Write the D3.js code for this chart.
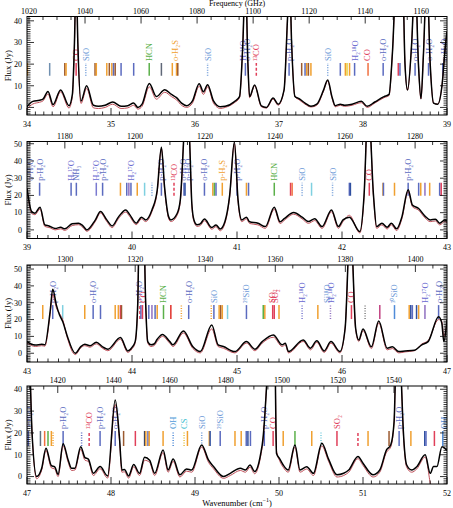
<!DOCTYPE html>
<html><head><meta charset="utf-8">
<script src="https://cdn.jsdelivr.net/npm/d3@7"></script>
<style>body{margin:0;background:#fff}svg{display:block}text{font-family:"Liberation Serif","Times New Roman",serif}</style>
</head><body><svg id="c" width="453" height="508"></svg>
<script>
// ---------------- DATA ----------------
const wnRanges = [[34,39],[39,43],[43,47],[47,52]];
const fluxRanges = [[-3.5,42],[-5,51.3],[-5.2,52.4],[-3.4,41.5]];
const fluxTicks = [[0,10,20,30,40],[0,10,20,30,40,50],[0,10,20,30,40,50],[0,10,20,30,40]];
const markerLevels = [[14.6,20.5],[19.8,27.3],[20.3,28.6],[14,20.9]];

const wn1 = [34.00,34.07,34.15,34.19,34.25,34.31,34.40,34.50,34.54,34.565,34.585,34.605,34.643,34.71,34.79,34.85,34.93,35.02,35.12,35.20,35.27,35.32,35.37,35.456,35.54,35.64,35.72,35.78,35.84,35.90,35.97,36.05,36.10,36.15,36.22,36.26,36.30,36.36,36.47,36.53,36.57,36.60,36.63,36.65,36.71,36.79,36.85,36.93,36.99,37.06,37.10,37.125,37.15,37.19,37.24,37.31,37.38,37.45,37.53,37.58,37.63,37.67,37.73,37.78,37.87,37.98,38.05,38.14,38.25,38.31,38.35,38.40,38.47,38.50,38.53,38.58,38.62,38.66,38.69,38.72,38.76,38.80,38.84,38.89,38.94,38.98,39.00];
const black1 = [0.3,2.8,3.3,3.8,7.4,1.3,8.1,0.8,6,30,62,30,3.0,10,1.0,0.5,1.0,2.5,0.5,0.8,2.0,0.0,1.5,11.0,5.0,8.2,6.0,4.5,2.0,0.8,3.0,10.9,7.2,10.5,3.0,1.0,0.3,0.5,2.7,5,30,62,20,5,10.4,0.7,0.0,4.3,1.5,8,40,62,30,5,4,2,0.5,1.5,8,12.7,5,0.8,1.5,1,1.5,2.8,0.5,2.5,5,6,25,62,62,20,8,30,62,20,4,25,62,20,2,1.5,10,28,35];
const red1 = [-0.8,1.6,2.4,3.0,6.2,0.3,7.2,-0.3,5,29,62,29,1.8,8.8,-0.2,-0.5,0,1.5,-0.5,-0.2,1.0,-0.8,0.5,9.5,3.8,7.0,5.0,3.5,1.0,0,2.0,9.8,6.0,9.5,2.0,0.2,-0.5,0,2.2,4.5,30,62,20,4.5,10,0.3,-0.3,3.8,1,8,40,62,30,5,3.5,1.5,0.2,1,7.5,12.2,4.5,0.3,1,0.5,1,2.2,0,2,4.5,5.5,25,62,62,20,8,30,62,20,4,25,62,20,2,1.5,10,28,35];

const wn2 = [39.00,39.045,39.076,39.124,39.17,39.21,39.27,39.32,39.36,39.43,39.49,39.53,39.57,39.65,39.70,39.76,39.81,39.87,39.94,39.98,40.04,40.09,40.13,40.19,40.24,40.28,40.31,40.35,40.37,40.43,40.46,40.49,40.52,40.55,40.57,40.59,40.62,40.65,40.69,40.76,40.80,40.84,40.886,40.93,40.975,41.01,41.045,41.09,41.12,41.20,41.27,41.355,41.41,41.45,41.54,41.62,41.68,41.74,41.81,41.90,41.965,42.01,42.07,42.17,42.21,42.25,42.30,42.33,42.38,42.43,42.47,42.52,42.57,42.63,42.67,42.73,42.79,42.84,42.89,42.93,42.98,43.00];
const black2 = [24,10.6,9.7,13.2,2.9,2.3,0.8,1.5,0.6,3.5,3.9,2.5,0,5.7,10.7,5.8,2.3,7.4,11.6,8.7,3.9,7.4,5.8,11.6,23,48,25,7.4,5.8,9.5,17.4,50,90,50,15,5.8,3,3.5,6.3,1.4,2.9,0.5,5,20,51,17.4,5.8,7.4,4.7,3.9,1.9,13.2,4.7,6.5,10.1,7.4,4.8,6.4,1.9,11.6,1.9,5.8,7.4,-1,20,75,20,1.9,3.9,1.5,3.9,0.6,7.4,23.3,14.5,12.4,8,5.8,6.2,3.9,5.8,5];
const red2 = [24,9.5,8.8,12.2,2.0,1.4,0,0.6,-0.3,2.5,3.0,1.5,-0.8,4.8,9.8,4.8,1.3,6.4,10.3,7.6,3.0,6.4,4.8,10.6,22,47,24,6.4,4.8,8.5,16.4,50,90,50,14,4.8,2,2.5,5.3,0.4,1.9,-0.5,4,19,50,16.4,4.8,6.4,3.7,2.9,0.9,12,3.7,5.5,9.1,6.4,3.8,5.4,0.9,10.5,0.9,4.8,8.5,-1.8,19,75,19,0.9,2.9,0.5,2.9,-0.4,6.4,22.3,13.5,11.4,7,4.8,5.2,2.9,4.8,4];

const wn3 = [43.00,43.06,43.08,43.14,43.17,43.22,43.245,43.28,43.31,43.34,43.38,43.46,43.51,43.55,43.60,43.66,43.72,43.77,43.89,43.96,44.00,44.03,44.055,44.07,44.09,44.11,44.13,44.15,44.18,44.21,44.24,44.29,44.36,44.39,44.49,44.58,44.65,44.76,44.82,44.87,44.98,45.09,45.17,45.24,45.346,45.43,45.46,45.49,45.63,45.70,45.76,45.83,45.895,45.98,46.03,46.08,46.13,46.16,46.20,46.28,46.35,46.43,46.48,46.54,46.60,46.69,46.76,46.82,46.92,46.95,46.97,47.00];
const black3 = [6.9,5,4.9,5.3,5,24.7,38,28.6,22.7,18.8,10.9,0,3.8,5.3,4.5,6.5,3.8,2.4,9.3,1.4,3.5,6.9,30,80,70,80,30,6.9,5,5.5,8.3,11.2,6.9,5,13.2,3.8,1,16.8,5,4,1,6.9,2.4,6.9,10.9,5,6,1,7.9,3,7.4,1.4,6.9,1,15,80,14.8,7.9,14.4,3.8,19.1,3,3.8,1,1.3,1.8,5,6.9,21.7,18,6.9,20];
const red3 = [6.0,4.2,4.0,4.5,4.2,23,35,27,23.5,20,10,-0.8,3,4.5,3.6,5.6,2.9,1.5,8.3,0.5,2.6,6,30,80,70,80,30,6,4,4.5,7,10,5.9,4,12,2.8,0.2,14.5,4,3,0.2,6,1.5,6,9.5,4,5,0.2,7,2,6.5,0.5,6,0.2,15,80,14,7,13.5,2.8,18,2,2.8,0.2,0.8,1.5,5.5,7.5,20,19,10,18];

const wn4 = [47.00,47.02,47.06,47.115,47.175,47.226,47.29,47.33,47.37,47.43,47.49,47.53,47.57,47.64,47.69,47.73,47.79,47.87,47.96,48.05,48.10,48.13,48.16,48.21,48.27,48.34,48.40,48.46,48.52,48.62,48.68,48.74,48.82,48.90,48.96,49.08,49.16,49.22,49.34,49.42,49.54,49.60,49.655,49.71,49.78,49.81,49.85,49.90,49.95,49.97,50.01,50.05,50.11,50.19,50.25,50.33,50.41,50.51,50.59,50.69,50.77,50.83,50.94,51.00,51.12,51.20,51.28,51.33,51.37,51.41,51.45,51.48,51.52,51.58,51.64,51.74,51.80,51.84,51.88,51.94,52.00];
const black4 = [60,60,20,0,3.8,13,5,4.5,1,15,7.6,3.8,3.8,13.7,8.7,8,1.5,4.6,0.3,35.1,18.3,3,3.2,0.3,5.5,1.5,8.9,7.5,1.5,12.2,3,8,0.8,3.5,3,14.5,7.6,4.6,0,1.5,3.8,3,5.3,2.3,10,17.6,40,80,60,10.7,8,5.3,3,14.5,3,4.5,1.5,15.3,8,0.8,1.5,3,9.2,6.1,0.8,3,12.2,14.5,25,80,50,21,5.3,3,4.5,10,1.5,4.6,4.6,13.7,12];
const red4 = [60,60,20,-1,3,12,4,3.5,0,14,6.6,2.8,3,12.5,7.5,7,0.5,3.6,-0.7,33,17,2,2.2,-0.7,4.5,0.5,7.5,6.5,0.5,11,2,7,-0.2,2.5,2,13.5,6.6,3.6,-0.8,0.5,2.8,2,4.3,1.3,9,16.6,40,80,60,12,7,4.3,2,13.5,2,3.5,0.5,14,7,-0.2,0.5,2,8.2,5.1,-0.2,2,11.2,13.5,25,80,50,20,4.3,2,3.5,9,-3,-12,-20,-30,-40];

// line-identification markers: [wavenumber, colour, style]
const markers1 = [[34.005,"#f0a030","s"],[34.27,"#7090b0","s"],[34.45,"#9b5a30","s"],[34.465,"#f0a030","s"],[34.585,"#e0405a","s"],[34.70,"#6f9bd8","d"],[34.81,"#9b5a30","s"],[34.825,"#f0a030","s"],[34.95,"#f0a030","s"],[34.98,"#9b5a30","s"],[35.01,"#f0a030","s"],[35.03,"#5b6bbf","s"],[35.05,"#9b5a30","s"],[35.12,"#5b6bbf","s"],[35.27,"#5b6bbf","s"],[35.455,"#5bb04a","s"],[35.60,"#606878","s"],[35.73,"#f0a030","s"],[35.78,"#f0a030","s"],[35.795,"#9b5a30","s"],[36.15,"#6f9bd8","d"],[36.60,"#5b6bbf","s"],[36.73,"#e0405a","a"],[37.12,"#5b6bbf","s"],[37.27,"#9b5a30","s"],[37.31,"#5b6bbf","s"],[37.33,"#f0a030","s"],[37.35,"#9b5a30","s"],[37.38,"#f0a030","s"],[37.58,"#6f9bd8","d"],[37.73,"#5b6bbf","s"],[37.79,"#f0a030","s"],[37.81,"#e8d040","s"],[37.84,"#f0a030","s"],[37.90,"#5b6bbf","s"],[38.06,"#f07040","s"],[38.24,"#5b6bbf","s"],[38.42,"#e0405a","s"],[38.44,"#5b6bbf","s"],[38.62,"#5b6bbf","s"],[38.78,"#5b6bbf","s"],[38.95,"#5b6bbf","s"]];
const labels1 = [[34.585,"CO","#e0405a"],[34.70,"SiO","#6f9bd8"],[35.455,"HCN","#5bb04a"],[35.765,"o-H₂S","#f0a030"],[36.15,"SiO","#6f9bd8"],[36.575,"H₂¹⁸O","#6a6ad0"],[36.615,"o-H₂O","#5b6bbf"],[36.73,"¹³CO","#e0405a"],[37.12,"p-H₂O","#5b6bbf"],[37.58,"SiO","#6f9bd8"],[37.90,"H₂¹⁸O","#6a6ad0"],[38.045,"CO","#e0405a"],[38.24,"o-H₂O","#5b6bbf"],[38.62,"o-H₂O","#5b6bbf"],[38.78,"o-H₂O","#5b6bbf"],[38.965,"p-H₂O","#5b6bbf"]];

const markers2 = [[39.12,"#5b6bbf","s"],[39.42,"#5b6bbf","s"],[39.47,"#5b6bbf","s"],[39.66,"#7a7ad0","s"],[39.72,"#5b6bbf","s"],[39.89,"#f0a030","s"],[39.95,"#5b6bbf","s"],[39.97,"#9070c0","s"],[39.99,"#5b6bbf","s"],[40.05,"#f0a030","s"],[40.12,"#7fd0e0","s"],[40.19,"#6f9bd8","d"],[40.28,"#5b6bbf","s"],[40.40,"#e0405a","a"],[40.495,"#5b6bbf","s"],[40.505,"#3050a0","s"],[40.69,"#5b6bbf","s"],[40.77,"#f0a030","s"],[40.785,"#5bb04a","s"],[40.80,"#5b6bbf","s"],[40.86,"#f0a030","s"],[41.00,"#5b6bbf","s"],[41.09,"#f0a030","s"],[41.11,"#5b6bbf","s"],[41.355,"#5bb04a","s"],[41.51,"#e0405a","s"],[41.525,"#f07040","s"],[41.62,"#6f9bd8","d"],[41.71,"#7fd0e0","s"],[41.91,"#6f9bd8","d"],[42.07,"#5b6bbf","s"],[42.08,"#3050a0","s"],[42.26,"#e0405a","s"],[42.39,"#f0a030","s"],[42.395,"#5b6bbf","s"],[42.50,"#f0a030","s"],[42.63,"#5b6bbf","s"],[42.73,"#5b6bbf","s"],[42.75,"#f0a030","s"],[42.79,"#9070c0","s"],[42.835,"#f0a030","s"],[42.93,"#5b6bbf","s"],[42.945,"#e0405a","s"]];
const labels2 = [[39.03,"o-H₂O","#5b6bbf"],[39.12,"p-H₂O","#5b6bbf"],[39.42,"H₂¹⁷O","#6a6ad0"],[39.47,"NH₃","#5b6bbf"],[39.66,"H₂¹⁷O","#6a6ad0"],[39.72,"p-H₂O","#5b6bbf"],[39.99,"H₂¹⁷O","#6a6ad0"],[40.28,"p-H₂O","#5b6bbf"],[40.40,"¹³CO","#e0405a"],[40.49,"o-H₂O","#5b6bbf"],[40.53,"p-H₂O","#5b6bbf"],[40.69,"o-H₂O","#5b6bbf"],[40.86,"p-H₂S","#f0a030"],[41.00,"p-H₂O","#5b6bbf"],[41.355,"HCN","#5bb04a"],[41.62,"SiO","#6f9bd8"],[41.91,"SiO","#6f9bd8"],[42.26,"CO","#e0405a"],[42.63,"p-H₂O","#5b6bbf"]];

const markers3 = [[43.005,"#7fd0e0","s"],[43.15,"#f0a030","s"],[43.245,"#5b6bbf","s"],[43.34,"#7fd0e0","s"],[43.55,"#f0a030","s"],[43.63,"#5b6bbf","s"],[43.70,"#5b6bbf","s"],[43.84,"#f0a030","s"],[43.87,"#f0a030","s"],[43.89,"#e0405a","s"],[43.90,"#9b5a30","s"],[44.075,"#e0405a","a"],[44.085,"#5b6bbf","s"],[44.10,"#e0405a","s"],[44.16,"#5b6bbf","s"],[44.19,"#9070c0","s"],[44.22,"#5b6bbf","s"],[44.24,"#f0a030","s"],[44.30,"#5bb04a","s"],[44.37,"#e0302a","s"],[44.47,"#f0a030","d"],[44.54,"#5b6bbf","s"],[44.755,"#f0a030","d"],[44.78,"#5b6bbf","s"],[44.83,"#f0a030","s"],[44.845,"#9b5a30","s"],[44.86,"#f0a030","s"],[44.91,"#7fd0e0","s"],[45.09,"#5b6bbf","s"],[45.25,"#5bb04a","s"],[45.265,"#f0a030","s"],[45.34,"#e0405a","s"],[45.355,"#e0405a","s"],[45.40,"#f0a030","s"],[45.62,"#7a7ad0","d"],[45.77,"#f0a030","s"],[45.89,"#9070c0","d"],[46.09,"#e0405a","s"],[46.22,"#808080","d"],[46.36,"#c04080","s"],[46.50,"#4f8bd8","s"],[46.64,"#f0a030","s"],[46.655,"#3050a0","s"],[46.67,"#5b6bbf","s"],[46.71,"#3050a0","s"],[46.73,"#f0a030","s"],[46.79,"#9070c0","s"],[46.92,"#5b6bbf","s"]];
const labels3 = [[43.245,"p-H₂O","#5b6bbf"],[43.63,"o-H₂O","#5b6bbf"],[44.07,"o-H₂O","#5b6bbf"],[44.105,"CO","#e0405a"],[44.30,"HCN","#5bb04a"],[44.54,"o-H₂O","#5b6bbf"],[44.78,"SiO","#6f9bd8"],[45.09,"²⁹SiO","#6f9bd8"],[45.335,"SO₂","#e0405a"],[45.365,"SO₂","#e0405a"],[45.62,"H₂¹⁸O","#6a6ad0"],[45.86,"Si¹⁸O","#6f9bd8"],[45.895,"H₂¹⁸O","#6a6ad0"],[46.09,"CO","#e0405a"],[46.50,"³⁰SiO","#6f9bd8"],[46.79,"H₂¹⁷O","#6a6ad0"],[46.92,"o-H₂O","#5b6bbf"]];

const markers4 = [[47.015,"#5b6bbf","s"],[47.16,"#607080","s"],[47.21,"#f07040","s"],[47.25,"#5bb04a","s"],[47.29,"#f0a030","s"],[47.31,"#f0a030","d"],[47.43,"#5b6bbf","s"],[47.65,"#5b6bbf","d"],[47.74,"#e0405a","a"],[47.87,"#5b6bbf","s"],[48.05,"#5b6bbf","s"],[48.15,"#9b5a30","s"],[48.29,"#e0405a","s"],[48.40,"#404860","s"],[48.415,"#f0a030","s"],[48.44,"#5b6bbf","s"],[48.455,"#f0a030","s"],[48.62,"#f0a030","s"],[48.74,"#4f8bd8","d"],[48.87,"#e8c040","d"],[48.91,"#f0a030","s"],[49.08,"#6f9bd8","d"],[49.17,"#f0a030","s"],[49.18,"#3050a0","s"],[49.30,"#5b6bbf","s"],[49.476,"#f0a030","s"],[49.55,"#f0a030","s"],[49.61,"#5b6bbf","s"],[49.63,"#3050a0","s"],[49.66,"#5b6bbf","s"],[49.825,"#5b6bbf","s"],[49.93,"#e0405a","s"],[50.05,"#f0a030","s"],[50.19,"#5bb04a","s"],[50.39,"#f0a030","s"],[50.50,"#7fd0e0","d"],[50.69,"#e0405a","s"],[50.94,"#e0405a","a"],[51.06,"#f0a030","s"],[51.31,"#9b5a30","s"],[51.43,"#5b6bbf","s"],[51.57,"#f0a030","s"],[51.735,"#3050a0","s"],[51.75,"#5b6bbf","s"],[51.85,"#e0405a","s"],[51.95,"#4f8bd8","s"]];
const labels4 = [[47.015,"o-H₂O","#5b6bbf"],[47.43,"p-H₂O","#5b6bbf"],[47.74,"¹³CO","#e0405a"],[47.87,"p-H₂O","#5b6bbf"],[48.05,"o-H₂O","#5b6bbf"],[48.74,"OH","#4f9bd8"],[48.87,"CS","#40c0d0"],[49.08,"SiO","#6f9bd8"],[49.30,"²⁹SiO","#6f9bd8"],[49.825,"p-H₂O","#5b6bbf"],[49.93,"CO","#e0405a"],[50.69,"SO₂","#e0405a"],[51.43,"p-H₂O","#5b6bbf"],[51.96,"OH","#4f8bd8"]];

// ---------------- DRAW ----------------
const GHZ = 29.9792458;
const svg = d3.select("#c");
const X0 = 27, X1 = 447;
const tops = [16.5, 141.5, 265, 386];
const bottoms = [115, 238.5, 362, 484];
const panels = [
  {wn: wn1, black: black1, red: red1, markers: markers1, labels: labels1},
  {wn: wn2, black: black2, red: red2, markers: markers2, labels: labels2},
  {wn: wn3, black: black3, red: red3, markers: markers3, labels: labels3},
  {wn: wn4, black: black4, red: red4, markers: markers4, labels: labels4}
];

panels.forEach((p, i) => {
  const x = d3.scaleLinear().domain(wnRanges[i]).range([X0, X1]);
  const y = d3.scaleLinear().domain(fluxRanges[i]).range([bottoms[i], tops[i]]);
  const fx = d3.scaleLinear().domain(wnRanges[i].map(v => v * GHZ)).range([X0, X1]);
  const g = svg.append("g");
  const cid = "clip" + i;
  svg.append("clipPath").attr("id", cid).append("rect")
    .attr("x", X0).attr("y", tops[i]).attr("width", X1 - X0).attr("height", bottoms[i] - tops[i]);

  // markers
  const mg = g.append("g").attr("clip-path", `url(#${cid})`);
  const [mlo, mhi] = markerLevels[i];
  p.markers.forEach(m => {
    const ln = mg.append("line").attr("x1", x(m[0])).attr("x2", x(m[0]))
      .attr("y1", y(mlo)).attr("y2", y(mhi)).attr("stroke", m[1]).attr("stroke-width", 1.5);
    if (m[2] === "d") ln.attr("stroke-dasharray", "1,1.5");
    if (m[2] === "a") ln.attr("stroke-dasharray", "3,2");
  });
  // labels
  p.labels.forEach(l => {
    const px = x(l[0]), py = y(mhi) - 2;
    mg.append("text").attr("transform", `translate(${px},${py}) rotate(-90)`)
      .attr("dy", "0.35em").attr("font-size", 8.5).attr("fill", l[2]).text(l[1]);
  });

  // spectra
  const pts = p.wn.map((w, k) => [w, p.black[k], p.red[k]]);
  const lr = d3.line().x(d => x(d[0])).y(d => y(d[2])).curve(d3.curveMonotoneX);
  const lb = d3.line().x(d => x(d[0])).y(d => y(d[1])).curve(d3.curveMonotoneX);
  const sg = g.append("g").attr("clip-path", `url(#${cid})`);
  sg.append("path").datum(pts).attr("d", lr).attr("fill", "none").attr("stroke", "#c0505a").attr("stroke-width", 1);
  sg.append("path").datum(pts).attr("d", lb).attr("fill", "none").attr("stroke", "#000").attr("stroke-width", 1.5);

  // frame
  g.append("rect").attr("x", X0).attr("y", tops[i]).attr("width", X1 - X0).attr("height", bottoms[i] - tops[i])
    .attr("fill", "none").attr("stroke", "#000").attr("stroke-width", 1);

  // y ticks (left & right), minor every 1 Jy
  const yMinor = d3.range(Math.ceil(fluxRanges[i][0]), Math.floor(fluxRanges[i][1]) + 1);
  yMinor.forEach(v => {
    const L = (v % 10 === 0) ? 7 : 3.5;
    g.append("line").attr("x1", X0).attr("x2", X0 + L).attr("y1", y(v)).attr("y2", y(v)).attr("stroke", "#000").attr("stroke-width", 0.8);
    g.append("line").attr("x1", X1).attr("x2", X1 - L).attr("y1", y(v)).attr("y2", y(v)).attr("stroke", "#000").attr("stroke-width", 0.8);
  });
  fluxTicks[i].forEach(v => {
    g.append("text").attr("x", X0 - 5).attr("y", y(v)).attr("dy", "0.35em").attr("text-anchor", "end")
      .attr("font-size", 8).text(v);
  });
  g.append("text").attr("transform", `translate(11,${(tops[i] + bottoms[i]) / 2}) rotate(-90)`)
    .attr("text-anchor", "middle").attr("font-size", 8.5).text("Flux (Jy)");

  // bottom wavenumber ticks
  const wMinor = d3.range(Math.round(wnRanges[i][0] * 10), Math.round(wnRanges[i][1] * 10) + 1).map(v => v / 10);
  wMinor.forEach(v => {
    const maj = Math.abs(v - Math.round(v)) < 1e-6;
    g.append("line").attr("x1", x(v)).attr("x2", x(v)).attr("y1", bottoms[i]).attr("y2", bottoms[i] - (maj ? 7 : 3.5)).attr("stroke", "#000").attr("stroke-width", 0.8);
  });
  d3.range(wnRanges[i][0], wnRanges[i][1] + 1).forEach(v => {
    g.append("text").attr("x", x(v)).attr("y", bottoms[i] + 11.5).attr("text-anchor", "middle").attr("font-size", 8).text(v);
  });

  // top frequency ticks
  const f0 = wnRanges[i][0] * GHZ, f1 = wnRanges[i][1] * GHZ;
  d3.range(Math.ceil(f0 / 5) * 5, f1, 5).forEach(v => {
    const maj = v % 20 === 0;
    g.append("line").attr("x1", fx(v)).attr("x2", fx(v)).attr("y1", tops[i]).attr("y2", tops[i] + (maj ? 7 : 3.5)).attr("stroke", "#000").attr("stroke-width", 0.8);
    if (maj) g.append("text").attr("x", fx(v)).attr("y", tops[i] - 3).attr("text-anchor", "middle").attr("font-size", 8).text(v);
  });
});

svg.append("text").attr("x", 237).attr("y", 6).attr("text-anchor", "middle").attr("font-size", 8).text("Frequency (GHz)");
const wt = svg.append("text").attr("x", 237).attr("y", 505.5).attr("text-anchor", "middle").attr("font-size", 8.5);
wt.append("tspan").text("Wavenumber (cm");
wt.append("tspan").attr("dy", -3.5).attr("font-size", 6).text("−1");
wt.append("tspan").attr("dy", 3.5).text(")");
</script></body></html>
